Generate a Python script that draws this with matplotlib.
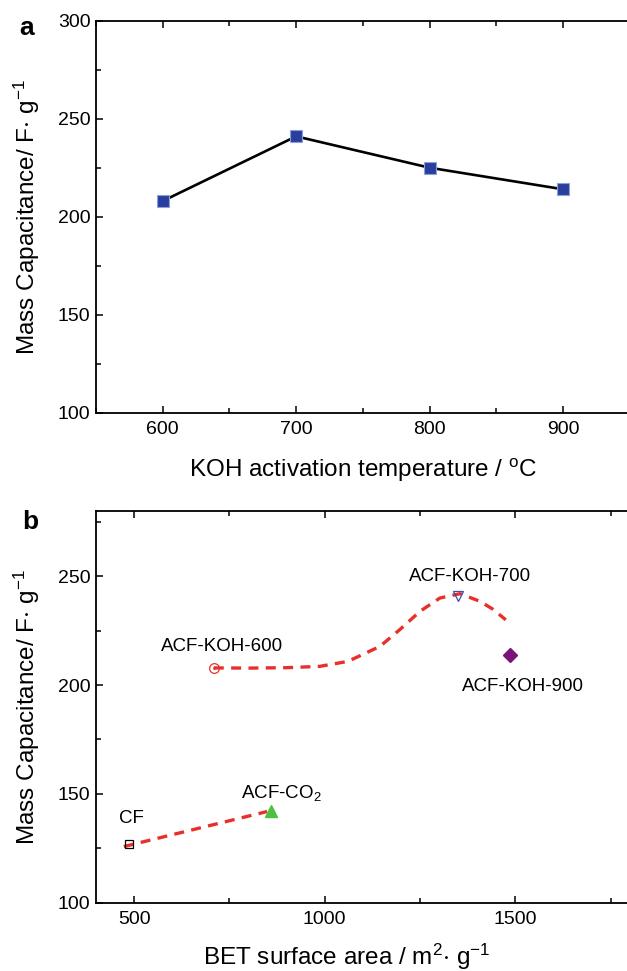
import matplotlib
matplotlib.use("Agg")
import matplotlib.pyplot as plt
from matplotlib.ticker import MultipleLocator

plt.rcParams['font.family'] = ['Liberation Sans', 'DejaVu Sans']
plt.rcParams['mathtext.default'] = 'regular'

# panel a: capacitance vs KOH activation temperature
temps = [600, 700, 800, 900]
cap_temp = [208, 241, 225, 214]

# panel b: capacitance vs BET surface area
names = ["CF", "ACF-CO$_{2}$", "ACF-KOH-600", "ACF-KOH-700", "ACF-KOH-900"]
bet = [487, 860, 709, 1350, 1487]
cap_bet = [127, 142, 208, 241, 214]

# dashed guide lines
guide1_x = [473, 849]
guide1_y = [125.8, 141.9]
guide2_x = [709, 800, 900, 987, 1061, 1145, 1197, 1250, 1302, 1355, 1407, 1440, 1475]
guide2_y = [207.9, 207.8, 208, 208.6, 210.9, 217.8, 225.5, 233.9, 240, 242, 238.5, 235, 230]

W, H = 627, 971
fig = plt.figure(figsize=(W / 100, H / 100), dpi=100)

AX_L, AX_R = 96, 629.7


def style(ax):
    ax.spines['right'].set_visible(False)
    for s in ['left', 'bottom', 'top']:
        ax.spines[s].set_linewidth(1.3)
    ax.tick_params(which='both', direction='in', right=False, labelsize=14)
    ax.tick_params(which='major', length=5, width=1.1)
    ax.tick_params(which='minor', length=3.5, width=1.1)
    ax.tick_params(axis='x', which='both', top=True, pad=6)
    ax.tick_params(axis='x', which='both', labeltop=False)
    ax.tick_params(axis='y', pad=4)


def label_axes(ax, xlabel, ylabel, xfrac, xb):
    ax.set_xlabel(xlabel, fontsize=17.5)
    ax.xaxis.label.set_va('baseline')
    ax.xaxis.set_label_coords(xfrac, xb)
    ax.set_ylabel(ylabel, fontsize=17.5)
    ax.yaxis.label.set_va('center')
    ax.yaxis.set_label_coords((27 - AX_L) / (AX_R - AX_L), 0.5)


# ---- panel a ----
top_a, bot_a = 20.7, 412.7
ax1 = fig.add_axes([AX_L / W, (H - bot_a) / H, (AX_R - AX_L) / W, (bot_a - top_a) / H])
ax1.plot(temps, cap_temp, color='black', lw=1.9, marker='s', ms=9,
         mfc='#2a3f9d', mec='#8fa0d8', mew=0.8)
ax1.set_xlim(550, 950)
ax1.set_ylim(100, 300)
ax1.set_xticks([600, 700, 800, 900])
ax1.xaxis.set_minor_locator(MultipleLocator(50))
ax1.yaxis.set_major_locator(MultipleLocator(50))
ax1.yaxis.set_minor_locator(MultipleLocator(25))
style(ax1)
label_axes(ax1, "KOH activation temperature / $^{o}$C",
           "Mass Capacitance/ F$\\cdot$ g$^{-1}$",
           0.5, -(477 - bot_a) / (bot_a - top_a))
fig.text(27 / W, 1 - 28 / H, "a", fontsize=19, fontweight='bold', va='center', ha='center')

# ---- panel b ----
top_b, bot_b = 511, 902.7
ax2 = fig.add_axes([AX_L / W, (H - bot_b) / H, (AX_R - AX_L) / W, (bot_b - top_b) / H])
ax2.plot(guide1_x, guide1_y, color='#e8302a', lw=2.4, ls=(0, (3, 2.2)))
ax2.plot(guide2_x, guide2_y, color='#e8302a', lw=2.4, ls=(0, (3, 2.2)))

ax2.plot(bet[0], cap_bet[0], marker='s', ms=6, mfc='none', mec='black', mew=0.9, ls='none')
ax2.plot(bet[1], cap_bet[1], marker='^', ms=8, color='#4cc043', ls='none')
ax2.plot(bet[2], cap_bet[2], marker='o', ms=7, mfc='none', mec='#e8302a', mew=0.9, ls='none')
ax2.plot(bet[2], cap_bet[2], marker='.', ms=2, color='#e8302a', ls='none')
ax2.plot(bet[3], cap_bet[3], marker='v', ms=7, mfc='none', mec='#3a4fb0', mew=0.9, ls='none')
ax2.plot(bet[4], cap_bet[4], marker='D', ms=7, color='#7b127a', ls='none')

ax2.text(493, 138.9, names[0], fontsize=13.5, ha='center', va='center')
ax2.text(780, 150.4, names[1], fontsize=13.5, ha='left', va='center')
ax2.text(731, 217.8, names[2], fontsize=13.5, ha='center', va='center')
ax2.text(1381, 250, names[3], fontsize=13.5, ha='center', va='center')
ax2.text(1520, 199.4, names[4], fontsize=13.5, ha='center', va='center')

ax2.set_xlim(400, 1800)
ax2.set_ylim(100, 280)
ax2.set_xticks([500, 1000, 1500])
ax2.xaxis.set_minor_locator(MultipleLocator(250))
ax2.set_yticks([100, 150, 200, 250])
ax2.yaxis.set_minor_locator(MultipleLocator(25))
style(ax2)
label_axes(ax2, "BET surface area / m$^{2}$$\\cdot$ g$^{-1}$",
           "Mass Capacitance/ F$\\cdot$ g$^{-1}$",
           (347 - AX_L) / (AX_R - AX_L), -(965 - bot_b) / (bot_b - top_b))
fig.text(30 / W, 1 - 522 / H, "b", fontsize=19, fontweight='bold', va='center', ha='center')

fig.savefig("out.png", dpi=100)
